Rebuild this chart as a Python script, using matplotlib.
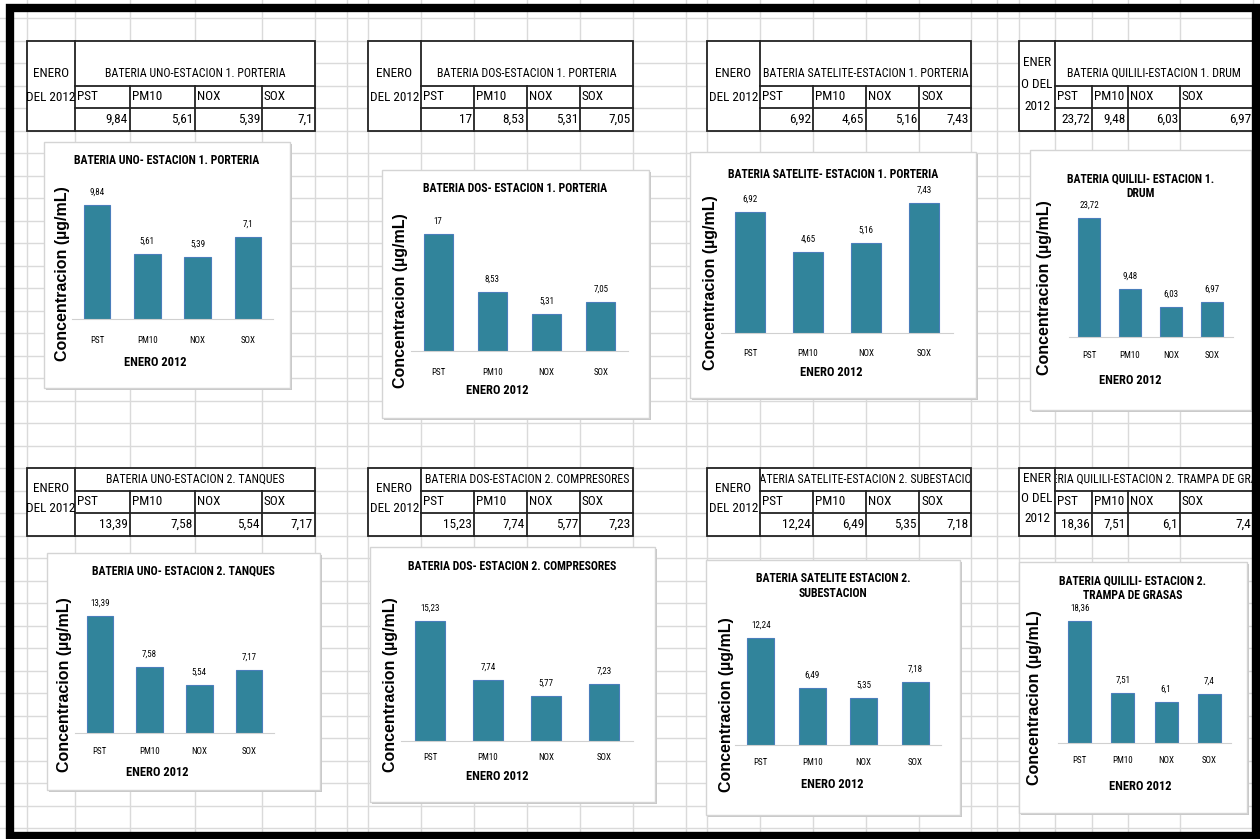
import numpy as np
import matplotlib
matplotlib.use("Agg")
import matplotlib.pyplot as plt
from matplotlib.patches import Rectangle
from matplotlib import font_manager

# datos de concentracion enero 2012
categories = ["PST", "PM10", "NOX", "SOX"]
uno_est1 = [9.84, 5.61, 5.39, 7.1]
dos_est1 = [17, 8.53, 5.31, 7.05]
satelite_est1 = [6.92, 4.65, 5.16, 7.43]
quilili_est1 = [23.72, 9.48, 6.03, 6.97]
uno_est2 = [13.39, 7.58, 5.54, 7.17]
dos_est2 = [15.23, 7.74, 5.77, 7.23]
satelite_est2 = [12.24, 6.49, 5.35, 7.18]
quilili_est2 = [18.36, 7.51, 6.1, 7.4]

chart_titles = [
    "BATERIA UNO- ESTACION 1. PORTERIA",
    "BATERIA DOS- ESTACION 1. PORTERIA",
    "BATERIA SATELITE- ESTACION 1. PORTERIA",
    "BATERIA QUILILI- ESTACION 1.\nDRUM",
    "BATERIA UNO- ESTACION 2. TANQUES",
    "BATERIA DOS- ESTACION 2. COMPRESORES",
    "BATERIA SATELITE ESTACION 2.\nSUBESTACION",
    "BATERIA QUILILI- ESTACION 2.\nTRAMPA DE GRASAS",
]
table_titles = [
    "BATERIA UNO-ESTACION 1. PORTERIA",
    "BATERIA DOS-ESTACION 1. PORTERIA",
    "BATERIA SATELITE-ESTACION 1. PORTERIA",
    "BATERIA QUILILI-ESTACION 1. DRUM",
    "BATERIA UNO-ESTACION 2. TANQUES",
    "BATERIA DOS-ESTACION 2. COMPRESORES",
    "BATERIA SATELITE-ESTACION 2. SUBESTACION",
    "BATERIA QUILILI-ESTACION 2. TRAMPA DE GRASAS",
]
series = [uno_est1, dos_est1, satelite_est1, quilili_est1,
          uno_est2, dos_est2, satelite_est2, quilili_est2]
x_label = "ENERO 2012"
y_label = "Concentracion (µg/mL)"

W, H = 1260, 839
BAR = "#31849B"

names = {f.name for f in font_manager.fontManager.ttflist}
narrow = next((n for n in ["Liberation Sans Narrow", "Roboto Condensed",
                           "Liberation Sans"] if n in names), "DejaVu Sans")
wide = "Liberation Sans" if "Liberation Sans" in names else "DejaVu Sans"


def fmt(v):
    return f"{v:g}".replace(".", ",")


fig = plt.figure(figsize=(12.6, 8.39), dpi=100)
bg = fig.add_axes([0, 0, 1, 1])
bg.set_xlim(0, W)
bg.set_ylim(H, 0)
bg.axis("off")

# cuadricula de la hoja
grid_cols = [26.5, 75, 130, 195, 262, 315, 347, 368, 421, 474, 527, 580, 633,
             686, 707, 760, 813, 866, 919, 971, 997, 1019, 1055, 1092, 1128,
             1180, 1253]
for x in grid_cols:
    bg.plot([x, x], [0, H], color="#DADADA", lw=1, zorder=1)
for y in np.arange(18, H, 22.5):
    bg.plot([0, W], [y, y], color="#DADADA", lw=1, zorder=1)

# tablas
table_cols = [[27, 75, 130, 195, 262, 315],
              [368, 421, 474, 527, 580, 633],
              [707, 760, 813, 866, 919, 971],
              [1019, 1055, 1092, 1128, 1180, 1253]]
table_rows = [[40.5, 85.5, 108, 130.5], [468, 490.5, 513, 535.5]]

for i in range(8):
    c = table_cols[i % 4]
    r = table_rows[i // 4]
    vals = series[i]
    bg.add_patch(Rectangle((c[0], r[0]), c[-1] - c[0], r[-1] - r[0],
                           fc="white", ec="#222222", lw=1.3, zorder=4))
    bg.plot([c[1], c[1]], [r[0], r[-1]], color="#222222", lw=1.3, zorder=5)
    for y in r[1:3]:
        bg.plot([c[1], c[-1]], [y, y], color="#222222", lw=1.3, zorder=5)
    for x in c[2:5]:
        bg.plot([x, x], [r[1], r[-1]], color="#222222", lw=1.3, zorder=5)
    # encabezado (recortado a su celda, como en la hoja)
    hy = r[1] - 12 if i < 4 else (r[0] + r[1]) / 2
    t = bg.text((c[1] + c[-1]) / 2, hy, table_titles[i], ha="center",
                va="center", fontsize=8.6, family=narrow, zorder=6)
    clip = Rectangle((c[1] + 1, r[0]), c[-1] - c[1] - 2, r[1] - r[0],
                     transform=bg.transData)
    t.set_clip_path(clip)
    t.set_clip_on(True)
    # columna de fecha
    if i % 4 == 3:
        lines = ["ENER", "O DEL", "2012"]
    else:
        lines = ["ENERO", "DEL 2012"]
    if i < 4:
        mid = 85 if i % 4 == 3 else 85.5
        step = 22 if i % 4 == 3 else 24
    else:
        mid = 498
        step = 20
    for k, s in enumerate(lines):
        yy = mid + (k - (len(lines) - 1) / 2) * step
        bg.text((c[0] + c[1]) / 2, yy, s, ha="center", va="center",
                fontsize=9.5, family=narrow, zorder=6)
    for k in range(4):
        bg.text(c[k + 1] + 2, (r[1] + r[2]) / 2, categories[k], ha="left",
                va="center", fontsize=9.5, family=narrow, zorder=6)
        bg.text(c[k + 2] - 2, (r[2] + r[3]) / 2, fmt(vals[k]), ha="right",
                va="center", fontsize=9.5, family=narrow, zorder=6)

# marco negro
bg.add_patch(Rectangle((9.5, 7.5), 1246.5, 828.5, fill=False, ec="black",
                       lw=6, zorder=10))

# posiciones de los graficos en pixeles
layouts = [
    dict(box=(44, 142, 290, 388), px=(72, 273), top=180, base=319,
         ymax=12, title_y=160, ylab=(63, 274), tick_y=340, xlab=(155, 362)),
    dict(box=(382, 170, 649, 418), px=(411, 628), top=227, base=351,
         ymax=18, title_y=189, ylab=(400, 301), tick_y=372, xlab=(497, 391)),
    dict(box=(690, 152, 976, 398), px=(721, 953), top=193, base=333,
         ymax=8, title_y=174, ylab=(710, 283), tick_y=353, xlab=(831, 373)),
    dict(box=(1030, 150, 1251, 410), px=(1068.5, 1232.5), top=211.5, base=337,
         ymax=25, title_y=186, ylab=(1045, 288), tick_y=355, xlab=(1130, 380)),
    dict(box=(47, 553, 320, 790), px=(75, 274), top=593, base=733,
         ymax=16, title_y=571, ylab=(65, 685), tick_y=751, xlab=(157, 772)),
    dict(box=(370, 547, 655, 802), px=(401, 633), top=615, base=741,
         ymax=16, title_y=567, ylab=(390, 685), tick_y=757, xlab=(497, 777)),
    dict(box=(706, 560, 960, 815), px=(735, 941), top=623, base=745,
         ymax=14, title_y=586, ylab=(727, 705), tick_y=762, xlab=(832, 785)),
    dict(box=(1019, 562, 1247, 813), px=(1058, 1231), top=610, base=743,
         ymax=20, title_y=588, ylab=(1034, 698), tick_y=760, xlab=(1140, 787)),
]

for i, L in enumerate(layouts):
    x0, y0, x1, y1 = L["box"]
    bg.add_patch(Rectangle((x0 + 2, y0 + 2), x1 - x0, y1 - y0, fc="#C8C8C8",
                           ec="none", zorder=2))
    bg.add_patch(Rectangle((x0, y0), x1 - x0, y1 - y0, fc="white",
                           ec="#D4D4D4", lw=1, zorder=3))

    a, b = L["px"]
    top, base = L["top"], L["base"]
    ax = fig.add_axes([a / W, 1 - base / H, (b - a) / W, (base - top) / H])
    ax.set_facecolor("none")
    bars = ax.bar(np.arange(4), series[i], width=0.53, color=BAR,
                  edgecolor="#4A7EBB", linewidth=0.8)
    ax.bar_label(bars, labels=[fmt(v) for v in series[i]], padding=6,
                 fontsize=6.5, family=narrow)
    ax.set_xlim(-0.5, 3.5)
    ax.set_ylim(0, L["ymax"])
    for s in ["top", "left", "right"]:
        ax.spines[s].set_visible(False)
    ax.spines["bottom"].set_color("#D0D0D0")
    ax.set_yticks([])
    ax.set_xticks(np.arange(4))
    ax.set_xticklabels(categories, fontsize=6.5, family=narrow)
    ax.tick_params(axis="x", length=0,
                   pad=(L["tick_y"] - base - 4) * 0.72)

    def to_ax(px, py):
        return (px - a) / (b - a), (base - py) / (base - top)

    tx, ty = to_ax((x0 + x1) / 2, L["title_y"])
    ax.text(tx, ty, chart_titles[i], transform=ax.transAxes, ha="center",
            va="center", fontsize=8.5, fontweight="bold", family=narrow,
            linespacing=1.15)
    ax.set_xlabel(x_label, fontsize=9, fontweight="bold", family=narrow,
                  va="center")
    ax.xaxis.set_label_coords(*to_ax(*L["xlab"]))
    ax.set_ylabel(y_label, fontsize=11.5, fontweight="bold", family=wide,
                  va="center", ha="center")
    ax.yaxis.set_label_coords(*to_ax(*L["ylab"]))

fig.savefig("out.png", dpi=100)
